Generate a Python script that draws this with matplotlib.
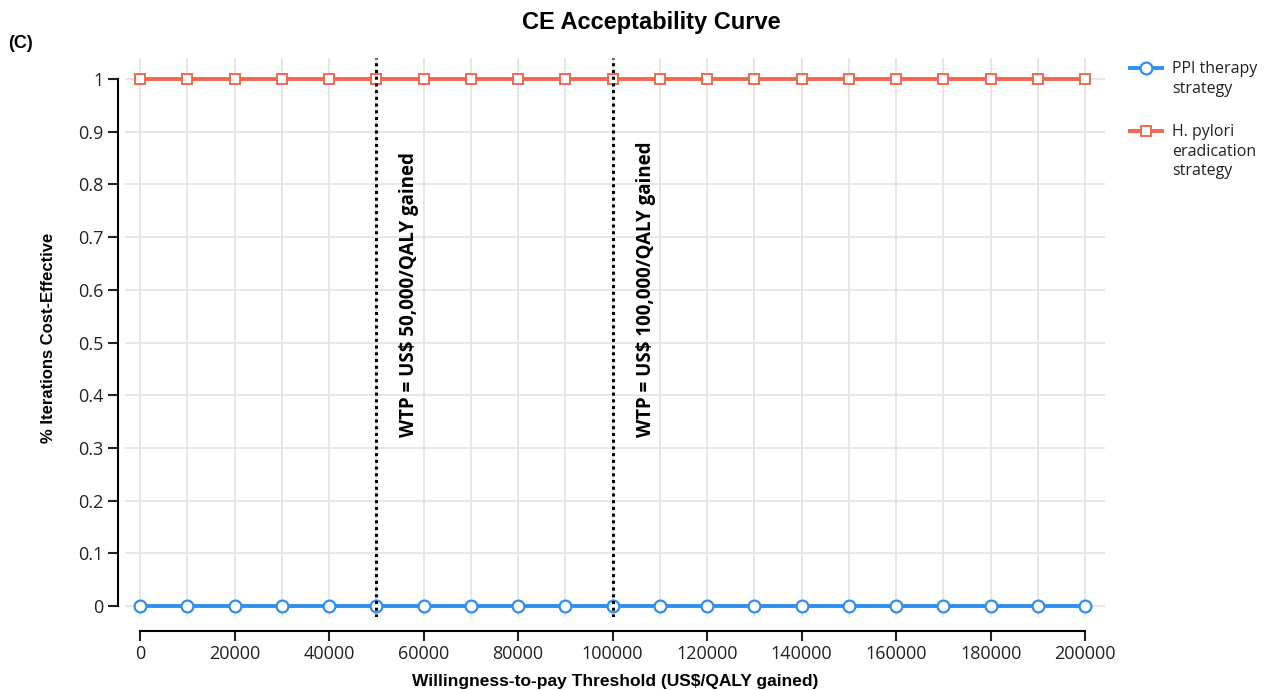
import numpy as np
import matplotlib
matplotlib.use("Agg")
import matplotlib.pyplot as plt
from matplotlib.lines import Line2D

# data
wtp = [0, 10000, 20000, 30000, 40000, 50000, 60000, 70000, 80000, 90000, 100000,
       110000, 120000, 130000, 140000, 150000, 160000, 170000, 180000, 190000, 200000]
ppi = [0] * 21
hpylori = [1] * 21
thresholds = [50000, 100000]
threshold_labels = ["WTP = US$ 50,000/QALY gained", "WTP = US$ 100,000/QALY gained"]
yticks = [0, 0.1, 0.2, 0.3, 0.4, 0.5, 0.6, 0.7, 0.8, 0.9, 1]
xticks = [0, 20000, 40000, 60000, 80000, 100000, 120000, 140000, 160000, 180000, 200000]
series_names = ["PPI therapy\nstrategy", "H. pylori\neradication\nstrategy"]

blue = "#2f8ff0"
red = "#f2674f"

fig = plt.figure(figsize=(12.65, 6.9), dpi=100)
ax = fig.add_axes([125/1265, 1 - 617/690, (1105-125)/1265, (617-58)/690])

styles = [dict(color=blue, marker="o", ms=8.5, mew=1.6),
          dict(color=red, marker="s", ms=7, mew=1.4)]
for yv, st in zip([ppi, hpylori], styles):
    ax.plot(wtp, yv, color=st["color"], lw=2.8, marker=st["marker"], ms=st["ms"],
            mfc="white", mec=st["color"], mew=st["mew"], zorder=3)

for t, lab in zip(thresholds, threshold_labels):
    ax.axvline(t, color="black", lw=2.2, ls=(0, (1, 1.2)), zorder=4)
    ax.text(t + 7000, 0.32, lab, rotation=90, ha="center", va="bottom",
            fontsize=13.5, fontweight="bold", family="Open Sans")

ax.set_xlim(-3200, 204200)
ax.set_ylim(-0.021, 1.04)
ax.set_xticks(xticks)
ax.set_yticks(yticks)
ax.set_yticklabels(["0", "0.1", "0.2", "0.3", "0.4", "0.5", "0.6", "0.7", "0.8", "0.9", "1"])
ax.set_xticks(wtp, minor=True)
ax.grid(True, which="both", color="#e3e3e3", lw=1.2)
ax.set_axisbelow(True)

for s in ["top", "right"]:
    ax.spines[s].set_visible(False)
ax.spines["left"].set_position(("outward", 5))
ax.spines["bottom"].set_position(("outward", 10))
ax.spines["left"].set_bounds(0, 1)
ax.spines["bottom"].set_bounds(0, 200000)
ax.spines["left"].set_linewidth(1.5)
ax.spines["bottom"].set_linewidth(1.5)
ax.tick_params(which="major", length=7, width=1.5, labelsize=13, colors="#222222")
ax.tick_params(axis="x", pad=3)
ax.tick_params(which="minor", length=0)
for lab in ax.get_xticklabels() + ax.get_yticklabels():
    lab.set_family("Open Sans")

ax.set_xlabel("Willingness-to-pay Threshold (US$/QALY gained)", fontsize=12.5,
              fontweight="bold", family="Liberation Sans", labelpad=8)
ax.set_ylabel("% Iterations Cost-Effective", fontsize=12, fontweight="bold",
              family="Liberation Sans", labelpad=16)

fig.text(651/1265, 1 - 22/690, "CE Acceptability Curve", ha="center", va="center",
         fontsize=17, fontweight="bold", family="Liberation Sans")
fig.text(8/1265, 1 - 43/690, "(C)", ha="left", va="center",
         fontsize=13, fontweight="bold", family="Liberation Sans")

# legend drawn by hand so the key sits level with the first text line
W, H = 1265, 690
for row_y, name, st in zip([68, 131], series_names, styles):
    fy = 1 - row_y / H
    fig.add_artist(Line2D([1130/W, 1162/W], [fy, fy], transform=fig.transFigure,
                          color=st["color"], lw=2.8))
    fig.add_artist(Line2D([1146/W], [fy], transform=fig.transFigure, marker=st["marker"],
                          ms=st["ms"], mfc="white", mec=st["color"], mew=st["mew"]))
    fig.text(1172/W, 1 - (row_y - 7) / H, name, ha="left", va="top", fontsize=11.5,
             family="Open Sans", color="#222222", linespacing=1.3)

fig.savefig("out.png", dpi=100)
